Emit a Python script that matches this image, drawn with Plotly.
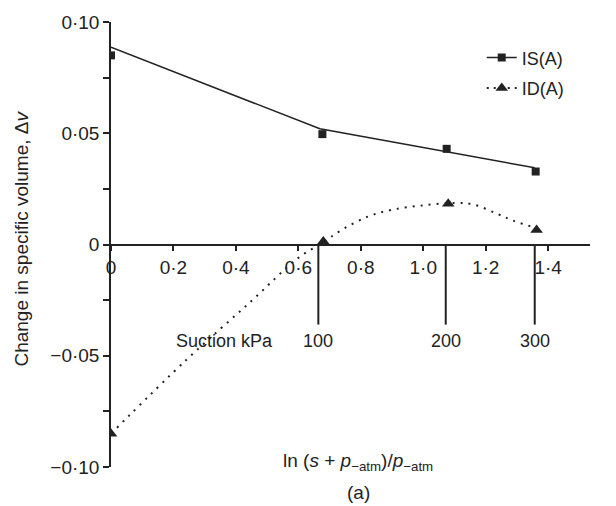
import plotly.graph_objects as go

# ---- data ----
x_ticks = [0, 0.2, 0.4, 0.6, 0.8, 1.0, 1.2, 1.4]
x_tick_labels = ["0", "0·2", "0·4", "0·6", "0·8", "1·0", "1·2", "1·4"]
y_ticks = [-0.10, -0.05, 0, 0.05, 0.10]
y_tick_labels = ["−0·10", "−0·05", "0", "0·05", "0·10"]

is_x = [0, 0.677, 1.075, 1.36]
is_y = [0.085, 0.0496, 0.043, 0.0328]
is_line_x = [0, 0.669, 1.357]
is_line_y = [0.0887, 0.052, 0.0345]

id_x = [0, 0.68, 1.08, 1.363]
id_y = [-0.085, 0.0013, 0.0183, 0.0065]
id_curve_x = [0, 0.24, 0.445, 0.60, 0.68, 0.73, 0.82, 0.90, 1.0, 1.1, 1.16, 1.235, 1.29, 1.36]
id_curve_y = [-0.085, -0.052, -0.026, -0.006, 0.001, 0.0058, 0.0124, 0.0156, 0.0176, 0.0187,
              0.018, 0.0139, 0.0106, 0.0075]

suction_x = [0.664, 1.072, 1.357]
suction_labels = ["100", "200", "300"]
suction_depth = -0.036

INK = "#222222"
FONT = "Liberation Sans, Arial, sans-serif"
FS = 19

fig = go.Figure()

# IS(A)
fig.add_trace(go.Scatter(x=is_line_x, y=is_line_y, mode="lines",
                         line=dict(color=INK, width=1.5), showlegend=False, hoverinfo="skip"))
fig.add_trace(go.Scatter(x=is_x, y=is_y, mode="markers",
                         marker=dict(symbol="square", size=8, color=INK), showlegend=False))
# ID(A)
fig.add_trace(go.Scatter(x=id_curve_x, y=id_curve_y, mode="lines",
                         line=dict(color=INK, width=2, dash="2px,6px", shape="spline", smoothing=1),
                         showlegend=False, hoverinfo="skip"))
fig.add_trace(go.Scatter(x=id_x, y=id_y, mode="markers",
                         marker=dict(symbol="triangle-up", size=11, color=INK), showlegend=False))

# legend entries
fig.add_trace(go.Scatter(x=[None], y=[None], mode="lines+markers", name="IS(A)",
                         legendgroup="is",
                         line=dict(color=INK, width=1.5),
                         marker=dict(symbol="square", size=8, color=INK)))
fig.add_trace(go.Scatter(x=[None], y=[None], mode="lines+markers", name="ID(A)",
                         legendgroup="id",
                         line=dict(color=INK, width=2, dash="2px,5px"),
                         marker=dict(symbol="triangle-up", size=11, color=INK)))

# suction markers
for sx, lab in zip(suction_x, suction_labels):
    fig.add_shape(type="line", x0=sx, x1=sx, y0=0, y1=suction_depth, xref="x", yref="y",
                  line=dict(color=INK, width=2))
    fig.add_annotation(x=sx, y=-0.0434, xref="x", yref="y", text=lab, showarrow=False,
                       xanchor="center", yanchor="middle",
                       font=dict(family=FONT, size=18, color=INK))
fig.add_annotation(x=0.365, y=-0.0434, xref="x", yref="y", text="Suction kPa", showarrow=False,
                   xanchor="center", yanchor="middle",
                   font=dict(family=FONT, size=18, color=INK))

# titles
fig.add_annotation(x=(22 - 111) / 479, y=(466.7 - 235) / 451.4, xref="paper", yref="paper",
                   text="Change in specific volume, Δ<i>v</i>", textangle=-90, showarrow=False,
                   xanchor="center", yanchor="middle",
                   font=dict(family=FONT, size=FS, color=INK))
fig.add_annotation(x=(358 - 111) / 479, y=(466.7 - 462) / 451.4, xref="paper", yref="paper",
                   text="ln (<i>s</i> + <i>p</i><sub>−atm</sub>)/<i>p</i><sub>−atm</sub>",
                   showarrow=False, xanchor="center", yanchor="middle",
                   font=dict(family=FONT, size=FS, color=INK))
fig.add_annotation(x=(358 - 111) / 479, y=(466.7 - 493) / 451.4, xref="paper", yref="paper",
                   text="(a)", showarrow=False, xanchor="center", yanchor="middle",
                   font=dict(family=FONT, size=FS, color=INK))

fig.update_layout(
    width=616, height=506,
    margin=dict(l=111, r=26, t=15, b=39),
    paper_bgcolor="white", plot_bgcolor="white",
    font=dict(family=FONT, size=FS, color=INK),
    showlegend=True,
    legend=dict(x=0.774, y=0.961, xanchor="left", yanchor="top",
                bgcolor="rgba(0,0,0,0)", font=dict(size=18),
                traceorder="grouped", tracegroupgap=4),
    xaxis=dict(range=[0, 1.534], showgrid=False, zeroline=False,
               showline=True, linecolor=INK, linewidth=1.5,
               anchor="free", position=0.5,
               tickmode="array", tickvals=x_ticks, ticktext=x_tick_labels,
               ticks="outside", ticklen=6, tickwidth=1.5, tickcolor=INK,
               tickfont=dict(size=FS, color=INK)),
    yaxis=dict(range=[-0.10, 0.10], showgrid=False, zeroline=False,
               showline=True, linecolor=INK, linewidth=1.5,
               tickmode="array", tickvals=y_ticks, ticktext=y_tick_labels,
               ticks="outside", ticklen=6, tickwidth=1.5, tickcolor=INK,
               tickfont=dict(size=FS, color=INK),
               minor=dict(tickmode="linear", tick0=0, dtick=0.025, ticks="outside",
                          ticklen=6, tickwidth=1.5, tickcolor=INK)),
)

fig.write_html("out.html", config={"displayModeBar": False},
               post_script="document.body.style.margin='0px';document.body.style.overflow='hidden';")
